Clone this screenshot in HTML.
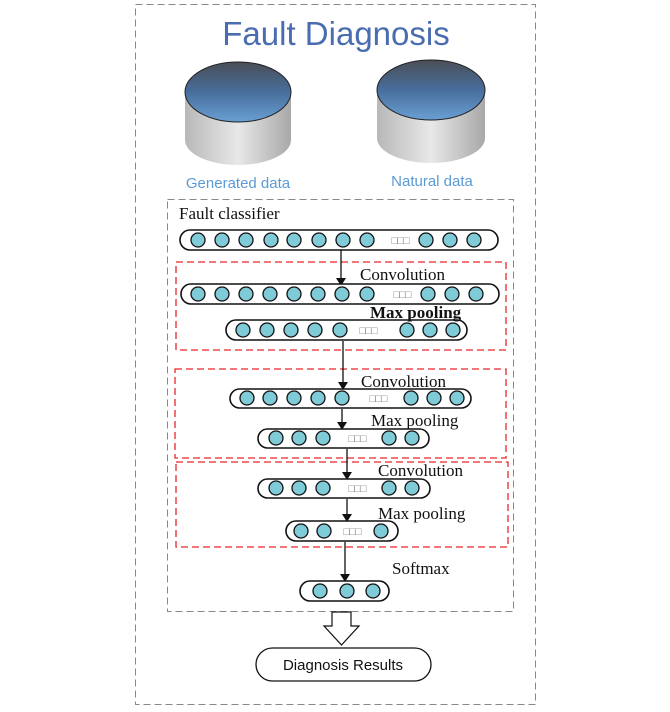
<!DOCTYPE html>
<html><head><meta charset="utf-8"><style>
html,body{margin:0;padding:0;background:#fff;}
svg{display:block;}
.s{font-family:"Liberation Serif",serif;font-size:17px;fill:#111;}
.bar{fill:#fff;stroke:#111;stroke-width:1.6;}
.c{fill:#7fcbd8;stroke:#111;stroke-width:1.3;}
.r{fill:none;stroke:#e8262a;stroke-width:1.3;stroke-dasharray:7,4;}
</style></head><body>
<svg width="670" height="712" viewBox="0 0 670 712" xmlns="http://www.w3.org/2000/svg">
<defs>
<linearGradient id="body" x1="0" x2="1" y1="0" y2="0">
<stop offset="0" stop-color="#b8b8b8"/><stop offset="0.5" stop-color="#e8e8e8"/><stop offset="1" stop-color="#a8a8a8"/>
</linearGradient>
<linearGradient id="top" x1="0" x2="0" y1="0" y2="1">
<stop offset="0" stop-color="#4a4e56"/><stop offset="0.5" stop-color="#476e9c"/><stop offset="1" stop-color="#6a9fd4"/>
</linearGradient>
<marker id="ah" markerWidth="8" markerHeight="10" refX="7" refY="5" orient="auto" markerUnits="userSpaceOnUse">
<path d="M0,0 L8,5 L0,10 z" fill="#111"/></marker>
</defs>
<rect x="135.5" y="4.5" width="400" height="700" fill="none" stroke="#888" stroke-width="1" stroke-dasharray="7,4"/>
<rect x="167.5" y="199.5" width="346" height="412" fill="none" stroke="#888" stroke-width="1" stroke-dasharray="7,4"/>
<text x="336" y="45" text-anchor="middle" font-family="Liberation Sans,sans-serif" font-size="33" fill="#4a6cb0">Fault Diagnosis</text>
<g>
<path d="M185,92 L185,140 A53,25 0 0 0 291,140 L291,92 z" fill="url(#body)"/>
<ellipse cx="238" cy="92" rx="53" ry="30" fill="url(#top)" stroke="#222" stroke-width="1"/>
<path d="M377,90 L377,138 A54,25 0 0 0 485,138 L485,90 z" fill="url(#body)"/>
<ellipse cx="431" cy="90" rx="54" ry="30" fill="url(#top)" stroke="#222" stroke-width="1"/>
</g>
<text x="238" y="188" text-anchor="middle" font-family="Liberation Sans,sans-serif" font-size="15" fill="#5b9bd5">Generated data</text>
<text x="432" y="186" text-anchor="middle" font-family="Liberation Sans,sans-serif" font-size="15" fill="#5b9bd5">Natural data</text>
<text class="s" x="179" y="219">Fault classifier</text>
<rect class="r" x="176" y="262" width="330" height="88"/>
<rect class="r" x="175" y="369" width="331" height="89"/>
<rect class="r" x="176" y="462" width="332" height="85"/>
<g stroke="#111" stroke-width="1.3" marker-end="url(#ah)">
<line x1="341" y1="250" x2="341" y2="285"/>
<line x1="343" y1="341" x2="343" y2="389"/>
<line x1="342" y1="409" x2="342" y2="429"/>
<line x1="347" y1="449" x2="347" y2="479"/>
<line x1="347" y1="499" x2="347" y2="521"/>
<line x1="345" y1="542" x2="345" y2="581"/>
</g>
<g>
<rect class="bar" x="180" y="230" width="318" height="20" rx="10"/>
<rect class="bar" x="181" y="284" width="318" height="20" rx="10"/>
<rect class="bar" x="226" y="320" width="241" height="20" rx="10"/>
<rect class="bar" x="230" y="389" width="241" height="19" rx="9.5"/>
<rect class="bar" x="258" y="429" width="171" height="19" rx="9.5"/>
<rect class="bar" x="258" y="479" width="172" height="19" rx="9.5"/>
<rect class="bar" x="286" y="521" width="112" height="20" rx="10"/>
<rect class="bar" x="300" y="581" width="89" height="20" rx="10"/>
</g>
<g>
<circle class="c" cx="198" cy="240" r="7"/><circle class="c" cx="222" cy="240" r="7"/><circle class="c" cx="246" cy="240" r="7"/><circle class="c" cx="271" cy="240" r="7"/><circle class="c" cx="294" cy="240" r="7"/><circle class="c" cx="319" cy="240" r="7"/><circle class="c" cx="343" cy="240" r="7"/><circle class="c" cx="367" cy="240" r="7"/><circle class="c" cx="426" cy="240" r="7"/><circle class="c" cx="450" cy="240" r="7"/><circle class="c" cx="474" cy="240" r="7"/>
<circle class="c" cx="198" cy="294" r="7"/><circle class="c" cx="222" cy="294" r="7"/><circle class="c" cx="246" cy="294" r="7"/><circle class="c" cx="270" cy="294" r="7"/><circle class="c" cx="294" cy="294" r="7"/><circle class="c" cx="318" cy="294" r="7"/><circle class="c" cx="342" cy="294" r="7"/><circle class="c" cx="367" cy="294" r="7"/><circle class="c" cx="428" cy="294" r="7"/><circle class="c" cx="452" cy="294" r="7"/><circle class="c" cx="476" cy="294" r="7"/>
<circle class="c" cx="243" cy="330" r="7"/><circle class="c" cx="267" cy="330" r="7"/><circle class="c" cx="291" cy="330" r="7"/><circle class="c" cx="315" cy="330" r="7"/><circle class="c" cx="340" cy="330" r="7"/><circle class="c" cx="407" cy="330" r="7"/><circle class="c" cx="430" cy="330" r="7"/><circle class="c" cx="453" cy="330" r="7"/>
<circle class="c" cx="247" cy="398" r="7"/><circle class="c" cx="270" cy="398" r="7"/><circle class="c" cx="294" cy="398" r="7"/><circle class="c" cx="318" cy="398" r="7"/><circle class="c" cx="342" cy="398" r="7"/><circle class="c" cx="411" cy="398" r="7"/><circle class="c" cx="434" cy="398" r="7"/><circle class="c" cx="457" cy="398" r="7"/>
<circle class="c" cx="276" cy="438" r="7"/><circle class="c" cx="299" cy="438" r="7"/><circle class="c" cx="323" cy="438" r="7"/><circle class="c" cx="389" cy="438" r="7"/><circle class="c" cx="412" cy="438" r="7"/>
<circle class="c" cx="276" cy="488" r="7"/><circle class="c" cx="299" cy="488" r="7"/><circle class="c" cx="323" cy="488" r="7"/><circle class="c" cx="389" cy="488" r="7"/><circle class="c" cx="412" cy="488" r="7"/>
<circle class="c" cx="301" cy="531" r="7"/><circle class="c" cx="324" cy="531" r="7"/><circle class="c" cx="381" cy="531" r="7"/>
<circle class="c" cx="320" cy="591" r="7"/><circle class="c" cx="347" cy="591" r="7"/><circle class="c" cx="373" cy="591" r="7"/>
</g>
<g font-family="Liberation Sans,sans-serif" font-size="11" fill="#888" text-anchor="middle" letter-spacing="-1">
<text x="400" y="244">□□□</text><text x="402" y="298">□□□</text><text x="368" y="334">□□□</text>
<text x="378" y="402">□□□</text><text x="357" y="442">□□□</text><text x="357" y="492">□□□</text><text x="352" y="535">□□□</text>
</g>
<text class="s" x="360" y="280">Convolution</text>
<text class="s" x="370" y="318" font-weight="bold" font-size="16">Max pooling</text>
<text class="s" x="361" y="387">Convolution</text>
<text class="s" x="371" y="426">Max pooling</text>
<text class="s" x="378" y="476">Convolution</text>
<text class="s" x="378" y="519">Max pooling</text>
<text class="s" x="392" y="574">Softmax</text>
<path d="M332,612 L351,612 L351,626 L359,626 L341.5,645 L324,626 L332,626 z" fill="#fff" stroke="#111" stroke-width="1.2"/>
<rect x="256" y="648" width="175" height="33" rx="16.5" fill="#fff" stroke="#111" stroke-width="1.3"/>
<text x="343" y="670" text-anchor="middle" font-family="Liberation Sans,sans-serif" font-size="15" fill="#111">Diagnosis Results</text>
</svg>
</body></html>
